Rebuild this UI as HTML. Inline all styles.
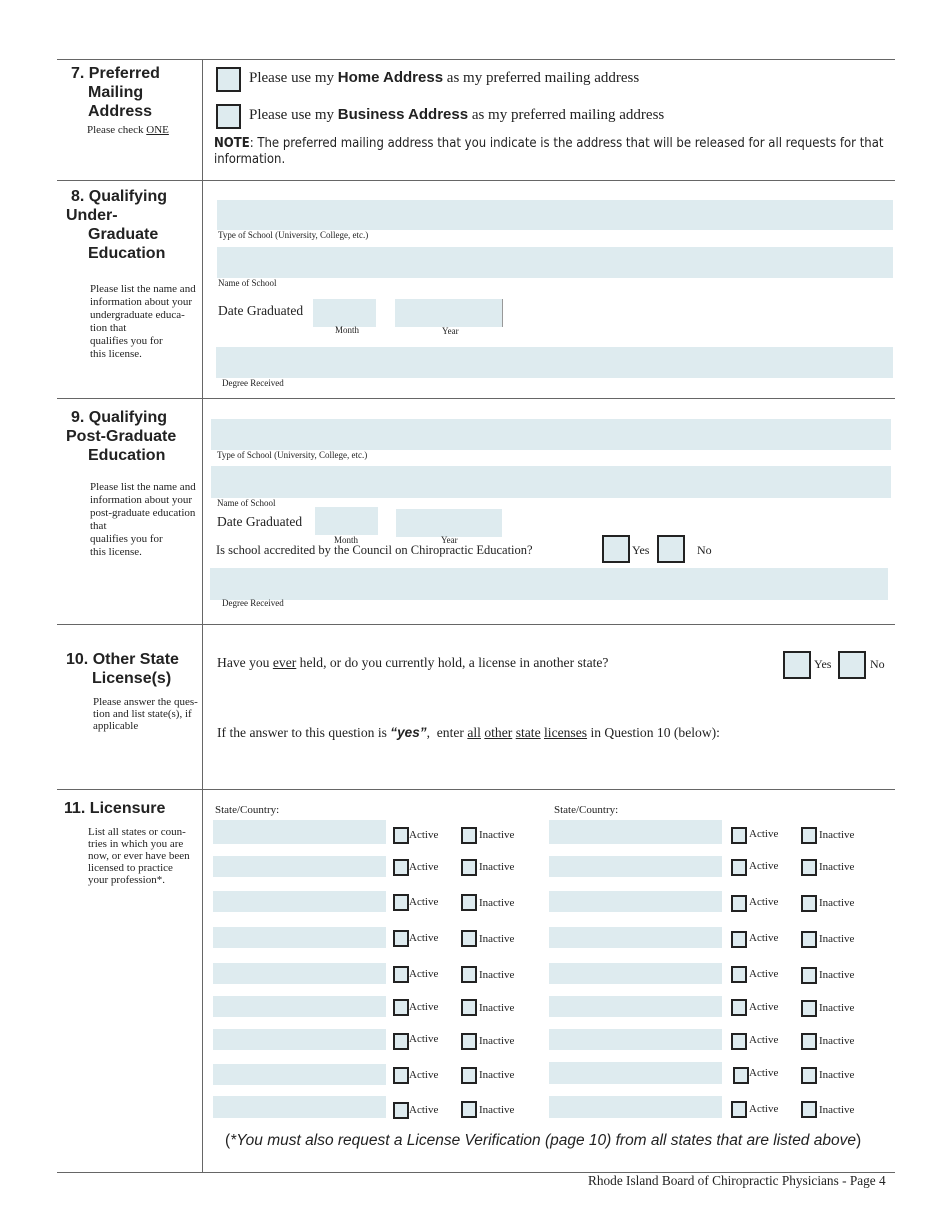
<!DOCTYPE html>
<html><head><meta charset="utf-8"><style>
body{margin:0;width:950px;height:1230px;background:#fff;position:relative;overflow:hidden;font-family:"Liberation Serif",serif;color:#222}
div,span{position:absolute}
.h{left:57px;width:838px;height:0;border-top:1.5px solid #666}
.f{background:#deebef}
.cb{background:#deebef;border:2px solid #222;box-sizing:border-box}
.hd{font-family:"Liberation Sans",sans-serif;font-weight:bold;font-size:16px;line-height:19px;white-space:nowrap}
.sm{font-size:11px;line-height:12px;white-space:nowrap}
.xs{font-size:9px;white-space:nowrap}
.t{font-size:15px;white-space:nowrap}
.lb{font-size:11px;white-space:nowrap}
u{text-decoration:underline}
</style></head><body>
<div class="h" style="top:59px"></div>
<div class="h" style="top:180px"></div>
<div class="h" style="top:398px"></div>
<div class="h" style="top:624px"></div>
<div class="h" style="top:789px"></div>
<div class="h" style="top:1172px"></div>
<div style="left:202px;top:59px;width:0;height:1114px;border-left:1.5px solid #666"></div>

<!-- 7 -->
<div class="hd" style="left:71px;top:64px">7. Preferred</div>
<div class="hd" style="left:88px;top:83px">Mailing</div>
<div class="hd" style="left:88px;top:102px">Address</div>
<div class="sm" style="left:87px;top:124px">Please check <u>ONE</u></div>
<div class="cb" style="left:216px;top:67px;width:25px;height:25px"></div>
<div class="t" style="left:249px;top:69px">Please use my <b style="font-family:'Liberation Sans',sans-serif">Home Address</b> as my preferred mailing address</div>
<div class="cb" style="left:216px;top:104px;width:25px;height:25px"></div>
<div class="t" style="left:249px;top:106px">Please use my <b style="font-family:'Liberation Sans',sans-serif">Business Address</b> as my preferred mailing address</div>
<div style="left:214px;top:136px;width:680px;font-family:'DejaVu Sans Condensed','Liberation Sans',sans-serif;font-size:13px;line-height:16px"><b>NOTE</b>: The preferred mailing address that you indicate is the address that will be released for all requests for that information.</div>

<!-- 8 -->
<div class="hd" style="left:71px;top:187px">8. Qualifying</div>
<div class="hd" style="left:66px;top:206px">Under-</div>
<div class="hd" style="left:88px;top:225px">Graduate</div>
<div class="hd" style="left:88px;top:244px">Education</div>
<div class="sm" style="left:90px;top:283px;line-height:13px">Please list the name and<br>information about your<br>undergraduate educa-<br>tion that<br>qualifies you for<br>this license.</div>
<div class="f" style="left:217px;top:200px;width:676px;height:30px"></div>
<div class="xs" style="left:218px;top:230px">Type of School (University, College, etc.)</div>
<div class="f" style="left:217px;top:247px;width:676px;height:31px"></div>
<div class="xs" style="left:218px;top:278px">Name of School</div>
<div class="t" style="left:218px;top:303px;font-size:13.5px">Date Graduated</div>
<div class="f" style="left:313px;top:299px;width:63px;height:28px"></div>
<div class="f" style="left:395px;top:299px;width:107px;height:28px;border-right:1px solid #999"></div>
<div class="xs" style="left:335px;top:325px">Month</div>
<div class="xs" style="left:442px;top:326px">Year</div>
<div class="f" style="left:216px;top:347px;width:677px;height:31px"></div>
<div class="xs" style="left:222px;top:378px">Degree Received</div>

<!-- 9 -->
<div class="hd" style="left:71px;top:408px">9. Qualifying</div>
<div class="hd" style="left:66px;top:427px">Post-Graduate</div>
<div class="hd" style="left:88px;top:446px">Education</div>
<div class="sm" style="left:90px;top:481px;line-height:13px">Please list the name and<br>information about your<br>post-graduate education<br>that<br>qualifies you for<br>this license.</div>
<div class="f" style="left:211px;top:419px;width:680px;height:31px"></div>
<div class="xs" style="left:217px;top:450px">Type of School (University, College, etc.)</div>
<div class="f" style="left:211px;top:466px;width:680px;height:32px"></div>
<div class="xs" style="left:217px;top:498px">Name of School</div>
<div class="t" style="left:217px;top:514px;font-size:13.5px">Date Graduated</div>
<div class="f" style="left:315px;top:507px;width:63px;height:28px"></div>
<div class="f" style="left:396px;top:509px;width:106px;height:28px"></div>
<div class="xs" style="left:334px;top:535px">Month</div>
<div class="xs" style="left:441px;top:535px">Year</div>
<div class="t" style="left:216px;top:543px;font-size:12.5px">Is school accredited by the Council on Chiropractic Education?</div>
<div class="cb" style="left:602px;top:535px;width:28px;height:28px"></div>
<div class="lb" style="left:632px;top:543px;font-size:12px">Yes</div>
<div class="cb" style="left:657px;top:535px;width:28px;height:28px"></div>
<div class="lb" style="left:697px;top:543px;font-size:12px">No</div>
<div class="f" style="left:210px;top:568px;width:678px;height:32px"></div>
<div class="xs" style="left:222px;top:598px">Degree Received</div>

<!-- 10 -->
<div class="hd" style="left:66px;top:650px">10. Other State</div>
<div class="hd" style="left:92px;top:669px">License(s)</div>
<div class="sm" style="left:93px;top:696px">Please answer the ques-<br>tion and list state(s), if<br>applicable</div>
<div class="t" style="left:217px;top:655px;font-size:13.6px">Have you <u>ever</u> held, or do you currently hold, a license in another state?</div>
<div class="cb" style="left:783px;top:651px;width:28px;height:28px"></div>
<div class="lb" style="left:814px;top:657px;font-size:12px">Yes</div>
<div class="cb" style="left:838px;top:651px;width:28px;height:28px"></div>
<div class="lb" style="left:870px;top:657px;font-size:12px">No</div>
<div class="t" style="left:217px;top:725px;font-size:13.6px">If the answer to this question is <b style="font-family:'Liberation Sans',sans-serif;font-style:italic">“yes”</b>,&nbsp; enter <u>all</u> <u>other</u> <u>state</u> <u>licenses</u> in Question 10 (below):</div>

<!-- 11 -->
<div class="hd" style="left:64px;top:799px">11. Licensure</div>
<div class="sm" style="left:88px;top:826px">List all states or coun-<br>tries in which you are<br>now, or ever have been<br>licensed to practice<br>your profession*.</div>
<div class="lb" style="left:215px;top:804px">State/Country:</div>
<div class="lb" style="left:554px;top:804px">State/Country:</div>

<div class="f" style="left:213px;top:820px;width:173px;height:24px"></div><div class="cb" style="left:393px;top:827px;width:16px;height:17px"></div><div class="lb" style="left:409px;top:829px">Active</div><div class="cb" style="left:461px;top:827px;width:16px;height:17px"></div><div class="lb" style="left:479px;top:829px">Inactive</div><div class="f" style="left:549px;top:820px;width:173px;height:24px"></div><div class="cb" style="left:731px;top:827px;width:16px;height:17px"></div><div class="lb" style="left:749px;top:828px">Active</div><div class="cb" style="left:801px;top:827px;width:16px;height:17px"></div><div class="lb" style="left:819px;top:829px">Inactive</div>
<div class="f" style="left:213px;top:856px;width:173px;height:21px"></div><div class="cb" style="left:393px;top:859px;width:16px;height:17px"></div><div class="lb" style="left:409px;top:861px">Active</div><div class="cb" style="left:461px;top:859px;width:16px;height:17px"></div><div class="lb" style="left:479px;top:861px">Inactive</div><div class="f" style="left:549px;top:856px;width:173px;height:21px"></div><div class="cb" style="left:731px;top:859px;width:16px;height:17px"></div><div class="lb" style="left:749px;top:860px">Active</div><div class="cb" style="left:801px;top:859px;width:16px;height:17px"></div><div class="lb" style="left:819px;top:861px">Inactive</div>
<div class="f" style="left:213px;top:891px;width:173px;height:21px"></div><div class="cb" style="left:393px;top:894px;width:16px;height:17px"></div><div class="lb" style="left:409px;top:896px">Active</div><div class="cb" style="left:461px;top:894px;width:16px;height:17px"></div><div class="lb" style="left:479px;top:897px">Inactive</div><div class="f" style="left:549px;top:891px;width:173px;height:21px"></div><div class="cb" style="left:731px;top:895px;width:16px;height:17px"></div><div class="lb" style="left:749px;top:896px">Active</div><div class="cb" style="left:801px;top:895px;width:16px;height:17px"></div><div class="lb" style="left:819px;top:897px">Inactive</div>
<div class="f" style="left:213px;top:927px;width:173px;height:21px"></div><div class="cb" style="left:393px;top:930px;width:16px;height:17px"></div><div class="lb" style="left:409px;top:932px">Active</div><div class="cb" style="left:461px;top:930px;width:16px;height:17px"></div><div class="lb" style="left:479px;top:933px">Inactive</div><div class="f" style="left:549px;top:927px;width:173px;height:21px"></div><div class="cb" style="left:731px;top:931px;width:16px;height:17px"></div><div class="lb" style="left:749px;top:932px">Active</div><div class="cb" style="left:801px;top:931px;width:16px;height:17px"></div><div class="lb" style="left:819px;top:933px">Inactive</div>
<div class="f" style="left:213px;top:963px;width:173px;height:21px"></div><div class="cb" style="left:393px;top:966px;width:16px;height:17px"></div><div class="lb" style="left:409px;top:968px">Active</div><div class="cb" style="left:461px;top:966px;width:16px;height:17px"></div><div class="lb" style="left:479px;top:969px">Inactive</div><div class="f" style="left:549px;top:963px;width:173px;height:21px"></div><div class="cb" style="left:731px;top:966px;width:16px;height:17px"></div><div class="lb" style="left:749px;top:968px">Active</div><div class="cb" style="left:801px;top:967px;width:16px;height:17px"></div><div class="lb" style="left:819px;top:969px">Inactive</div>
<div class="f" style="left:213px;top:996px;width:173px;height:21px"></div><div class="cb" style="left:393px;top:999px;width:16px;height:17px"></div><div class="lb" style="left:409px;top:1001px">Active</div><div class="cb" style="left:461px;top:999px;width:16px;height:17px"></div><div class="lb" style="left:479px;top:1002px">Inactive</div><div class="f" style="left:549px;top:996px;width:173px;height:21px"></div><div class="cb" style="left:731px;top:999px;width:16px;height:17px"></div><div class="lb" style="left:749px;top:1001px">Active</div><div class="cb" style="left:801px;top:1000px;width:16px;height:17px"></div><div class="lb" style="left:819px;top:1002px">Inactive</div>
<div class="f" style="left:213px;top:1029px;width:173px;height:21px"></div><div class="cb" style="left:393px;top:1033px;width:16px;height:17px"></div><div class="lb" style="left:409px;top:1033px">Active</div><div class="cb" style="left:461px;top:1033px;width:16px;height:17px"></div><div class="lb" style="left:479px;top:1035px">Inactive</div><div class="f" style="left:549px;top:1029px;width:173px;height:21px"></div><div class="cb" style="left:731px;top:1033px;width:16px;height:17px"></div><div class="lb" style="left:749px;top:1034px">Active</div><div class="cb" style="left:801px;top:1033px;width:16px;height:17px"></div><div class="lb" style="left:819px;top:1035px">Inactive</div>
<div class="f" style="left:213px;top:1064px;width:173px;height:21px"></div><div class="cb" style="left:393px;top:1067px;width:16px;height:17px"></div><div class="lb" style="left:409px;top:1069px">Active</div><div class="cb" style="left:461px;top:1067px;width:16px;height:17px"></div><div class="lb" style="left:479px;top:1069px">Inactive</div><div class="f" style="left:549px;top:1062px;width:173px;height:22px"></div><div class="cb" style="left:733px;top:1067px;width:16px;height:17px"></div><div class="lb" style="left:749px;top:1067px">Active</div><div class="cb" style="left:801px;top:1067px;width:16px;height:17px"></div><div class="lb" style="left:819px;top:1069px">Inactive</div>
<div class="f" style="left:213px;top:1096px;width:173px;height:22px"></div><div class="cb" style="left:393px;top:1102px;width:16px;height:17px"></div><div class="lb" style="left:409px;top:1104px">Active</div><div class="cb" style="left:461px;top:1101px;width:16px;height:17px"></div><div class="lb" style="left:479px;top:1104px">Inactive</div><div class="f" style="left:549px;top:1096px;width:173px;height:22px"></div><div class="cb" style="left:731px;top:1101px;width:16px;height:17px"></div><div class="lb" style="left:749px;top:1103px">Active</div><div class="cb" style="left:801px;top:1101px;width:16px;height:17px"></div><div class="lb" style="left:819px;top:1104px">Inactive</div>

<div style="left:225px;top:1132px;font-family:'Liberation Sans',sans-serif;font-size:15.5px;white-space:nowrap">(<i>*You must also request a License Verification (page 10) from all states that are listed above</i>)</div>
<div style="left:588px;top:1173px;font-size:13.3px;white-space:nowrap">Rhode Island Board of Chiropractic Physicians - Page 4</div>
</body></html>
